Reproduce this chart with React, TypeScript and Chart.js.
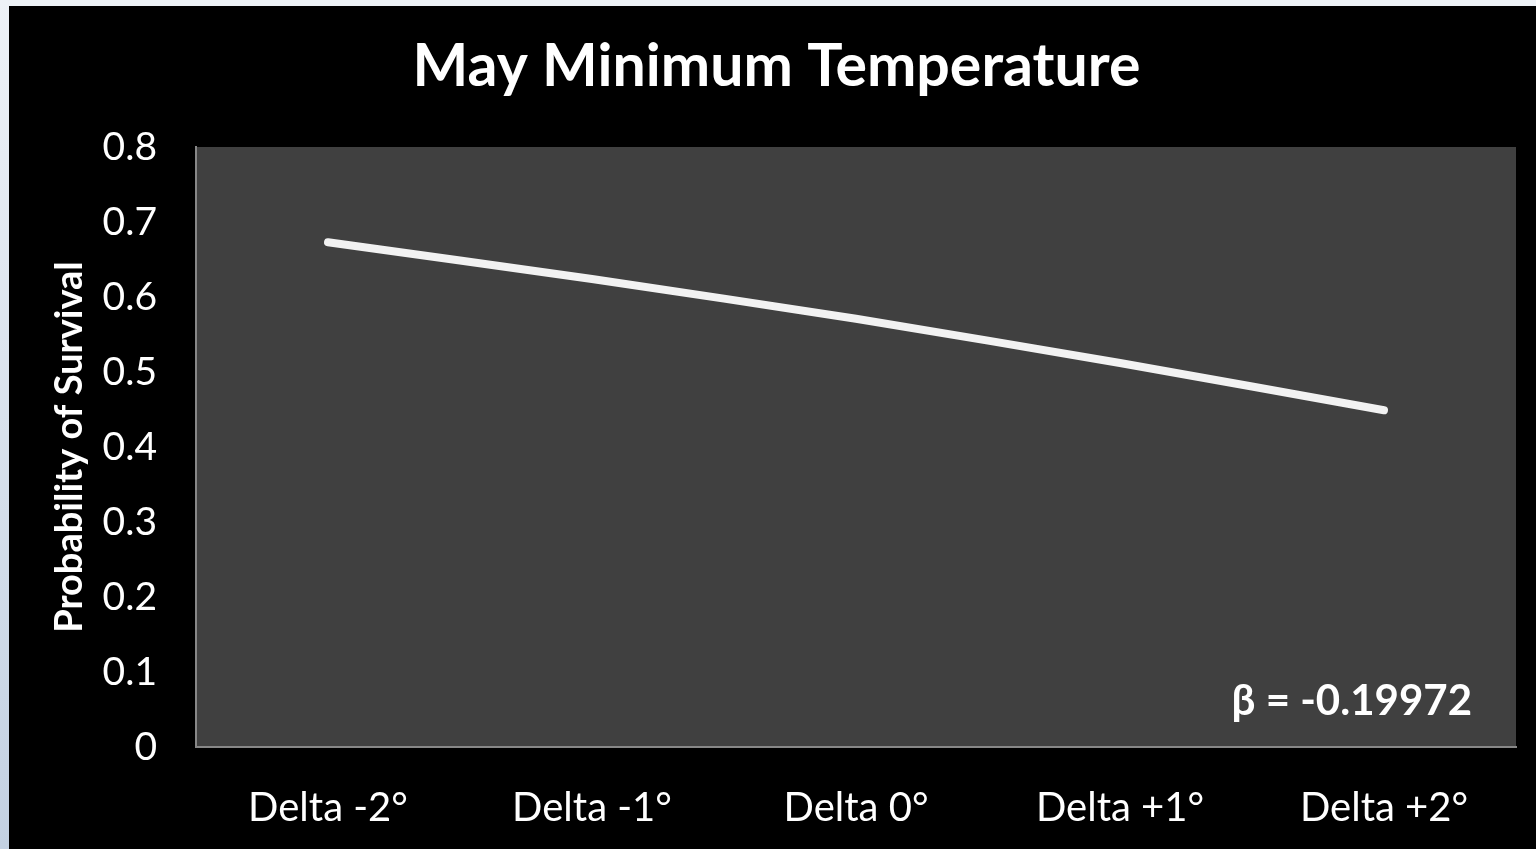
import React, { useEffect, useRef } from "react";
import { Chart, registerables } from "chart.js";

Chart.register(...registerables);

const categories = ["Delta -2°", "Delta -1°", "Delta 0°", "Delta +1°", "Delta +2°"];
const survival = [0.673, 0.624, 0.571, 0.512, 0.449];
const chartTitle = "May Minimum Temperature";
const yAxisTitle = "Probability of Survival";
const betaLabel = "β = -0.19972";

const FONT = "Lato, 'Open Sans', sans-serif";

const backgroundPlugin = {
  id: "bgPlugin",
  beforeDraw(chart: any) {
    const { ctx, width, height, chartArea } = chart;
    ctx.save();
    ctx.fillStyle = "#eef2f7";
    ctx.fillRect(0, 0, width, height);
    const g = ctx.createLinearGradient(0, 0, 0, height);
    g.addColorStop(0, "#eef2f7");
    g.addColorStop(1, "#c3d1e2");
    ctx.fillStyle = g;
    ctx.fillRect(0, 0, 9, height);
    ctx.fillStyle = "#000000";
    ctx.fillRect(9, 6, width - 9, height - 6);
    ctx.fillStyle = "#404040";
    ctx.fillRect(chartArea.left, chartArea.top, chartArea.right - chartArea.left, chartArea.bottom - chartArea.top);
    ctx.restore();
  },
  afterDraw(chart: any) {
    const { ctx, chartArea, width } = chart;
    ctx.save();
    ctx.fillStyle = "#ffffff";
    // title
    ctx.font = `bold 59px ${FONT}`;
    ctx.textAlign = "center";
    ctx.textBaseline = "middle";
    ctx.fillText(chartTitle, (17 + width) / 2, 67);
    // beta annotation
    ctx.font = `bold 42px ${FONT}`;
    ctx.textAlign = "right";
    ctx.fillText(betaLabel, chartArea.right - 44, chartArea.bottom - 46);
    ctx.restore();
  },
};

export default function App() {
  const ref = useRef<HTMLCanvasElement | null>(null);
  useEffect(() => {
    document.body.style.margin = "0";
    const chart = new Chart(ref.current as HTMLCanvasElement, {
      type: "line",
      data: {
        labels: categories,
        datasets: [
          {
            data: survival,
            borderColor: "#f2f2f2",
            borderWidth: 8,
            borderCapStyle: "round",
            borderJoinStyle: "round",
            pointRadius: 0,
            tension: 0.2,
            fill: false,
          },
        ],
      },
      options: {
        responsive: false,
        animation: false,
        layout: { padding: { left: 17, right: 20, top: 147, bottom: 0 } },
        plugins: {
          legend: { display: false },
          tooltip: { enabled: false },
          title: { display: false },
        },
        scales: {
          x: {
            type: "category",
            offset: true,
            grid: { display: false, drawTicks: false },
            border: { display: true, color: "#878787", width: 2 },
            ticks: {
              color: "#ffffff",
              font: { family: FONT, size: 40 },
              padding: 37,
              maxRotation: 0,
              autoSkip: false,
            },
            afterFit: (s: any) => {
              s.height = 102;
            },
          },
          y: {
            min: 0,
            max: 0.8,
            grid: { display: false, drawTicks: false },
            border: { display: true, color: "#878787", width: 2 },
            ticks: {
              stepSize: 0.1,
              color: "#ffffff",
              font: { family: FONT, size: 39 },
              padding: 39,
            },
            title: {
              display: true,
              text: yAxisTitle,
              color: "#ffffff",
              font: { family: FONT, size: 38, weight: "bold", lineHeight: 1.2 },
              padding: { top: 30, bottom: 0 },
            },
            afterFit: (s: any) => {
              s.width = 179;
            },
          },
        },
      },
      plugins: [backgroundPlugin],
    });
    return () => chart.destroy();
  }, []);
  return (
    <canvas
      ref={ref}
      width={1536}
      height={849}
      style={{ display: "block", position: "absolute", left: 0, top: 0 }}
    />
  );
}
